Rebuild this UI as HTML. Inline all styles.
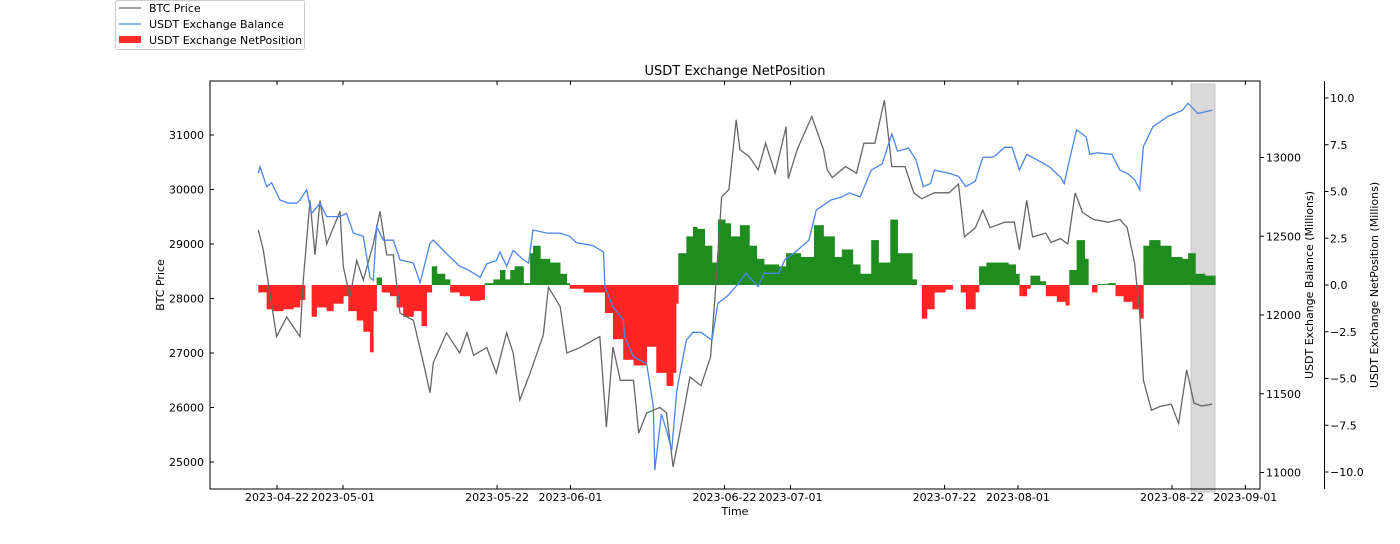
<!DOCTYPE html>
<html><head><meta charset="utf-8"><style>
body{margin:0;background:#fff;}
svg{display:block;font-family:"DejaVu Sans","Liberation Sans",sans-serif;}
</style></head><body>
<svg id="chart" width="1400" height="544" viewBox="0 0 1400 544" xmlns="http://www.w3.org/2000/svg">
<rect x="0" y="0" width="1400" height="544" fill="#fff"/>
<text x="735" y="75" font-size="13" text-anchor="middle">USDT Exchange NetPosition</text>
<rect x="1191" y="84" width="24" height="408" fill="#d9d9d9" stroke="#c4c4c4" stroke-width="1"/>
<g id="net"></g>
<path id="btcLine" fill="none" stroke="#666" stroke-width="1.3"/>
<path id="usdtLine" fill="none" stroke="#4b86ea" stroke-width="1.3"/>
<rect x="210" y="81" width="1050" height="408" fill="none" stroke="#000" stroke-width="1"/>
<line x1="1324.5" y1="81" x2="1324.5" y2="489" stroke="#000"/>
<g id="axes" font-size="11"></g>
<text x="735" y="515" font-size="11" text-anchor="middle">Time</text>
<text transform="translate(164,285) rotate(-90)" font-size="11" text-anchor="middle">BTC Price</text>
<text transform="translate(1313,285) rotate(-90)" font-size="11" text-anchor="middle">USDT Exchange Balance (Millions)</text>
<text transform="translate(1378,285) rotate(-90)" font-size="11" text-anchor="middle">USDT Exchange NetPosition (Millions)</text>
<g>
<rect x="115.5" y="0.5" width="189" height="49" fill="#fff" stroke="#ccc" rx="2"/>
<line x1="119" y1="8" x2="141" y2="8" stroke="#666" stroke-width="1.3"/>
<text x="149" y="12" font-size="11">BTC Price</text>
<line x1="119" y1="24" x2="141" y2="24" stroke="#4b86ea" stroke-width="1.3"/>
<text x="149" y="28" font-size="11">USDT Exchange Balance</text>
<rect x="119" y="36" width="22" height="7" fill="#ff2a2a"/>
<text x="149" y="44" font-size="11">USDT Exchange NetPosition</text>
</g>
</svg>
<script>
// days relative to 2023-04-22
const btcDays=[-2.55,-1.87,-1.18,-0.05,1.32,3.14,3.59,4.5,5.18,5.86,6.77,8.59,9.04,9.95,10.86,11.77,13.13,14.04,14.95,15.86,16.77,18.59,19.95,20.86,21.3,23.1,24.9,25.9,26.8,28.6,29.9,31.3,32.2,33.1,34.5,36.3,37.0,38.6,39.5,41.3,44.0,44.9,45.8,46.8,48.6,49.3,50.4,52.2,53.1,54.0,54.9,56.3,57.8,59.1,59.8,60.6,61.6,62.6,63.1,64.4,65.6,66.6,67.9,69.4,69.7,70.9,72.9,74.5,75.0,75.7,77.5,79.0,80.0,81.5,82.8,83.8,85.6,86.8,87.9,89.6,91.6,92.9,93.7,95.2,96.2,97.2,99.2,100.5,101.2,102.2,103.0,104.8,105.5,106.8,107.8,108.8,109.8,111.3,113.3,114.9,115.9,116.9,117.6,118.1,119.2,120.4,121.9,122.9,124.0,125.0,126.0,127.5];
const btcPrice=[29260,28890,28280,27300,27660,27300,28340,29800,28800,29800,29000,29600,28580,28030,28700,28340,29000,29600,28800,28800,27730,27600,26820,26270,26820,27370,27000,27370,26960,27100,26630,27370,27000,26140,26630,27330,28210,27850,27000,27100,27300,25640,27110,26500,26500,25530,25900,26000,25900,24910,25530,26560,26400,26930,28210,29860,30000,31280,30730,30600,30360,30850,30300,31150,30200,30730,31340,30730,30360,30220,30420,30300,30850,30850,31640,30420,30420,29940,29830,29940,29940,30100,29130,29300,29620,29300,29400,29400,28890,29800,29130,29200,29030,29100,29000,29940,29580,29450,29400,29450,29300,28650,27730,26500,25950,26020,26060,25710,26690,26080,26030,26060];
const balDays=[-2.55,-2.32,-1.41,-0.73,0.41,1.55,2.68,3.14,4.04,4.72,5.86,6.77,8.59,9.49,10.4,11.77,12.68,13.13,13.58,14.5,15.86,16.77,18.59,19.5,20.86,21.3,23.1,24.9,25.9,27.7,28.6,29.9,30.4,31.3,32.2,33.6,34.3,34.9,36.8,38.6,39.9,40.8,43.1,44.5,44.7,45.8,47.2,47.4,48.6,50.4,51.3,51.5,52.4,53.1,53.8,54.5,55.8,56.7,57.8,59.3,60.1,61.4,62.9,63.9,65.6,66.4,68.4,69.2,70.4,72.5,73.5,75.5,77.0,78.0,79.5,81.0,82.5,83.8,84.6,86.1,87.1,88.1,89.1,89.6,91.6,92.9,93.9,95.2,96.2,97.7,99.2,100.2,101.2,102.2,103.8,105.3,106.8,107.3,108.1,109.0,110.3,110.8,111.8,113.8,114.9,115.9,116.9,117.6,118.1,119.4,121.4,123.4,124.2,125.5,127.5];
const balance=[12900,12940,12815,12840,12730,12710,12710,12730,12795,12645,12710,12625,12625,12645,12520,12500,12240,12220,12560,12475,12475,12350,12330,12205,12455,12475,12390,12310,12290,12240,12325,12345,12400,12310,12410,12350,12330,12540,12520,12520,12500,12460,12440,12400,12180,12050,11970,11860,11735,11690,11420,11015,11370,11270,11140,11520,11840,11890,11890,11840,12075,12120,12200,12265,12180,12265,12265,12350,12390,12475,12665,12730,12750,12775,12750,12920,12960,13150,13040,13060,12985,12815,12835,12920,12900,12880,12815,12850,13000,13003,13065,13065,12920,13020,12980,12940,12875,12835,13000,13175,13130,13020,13030,13020,12920,12900,12860,12795,13070,13195,13260,13300,13345,13280,13300];
const netDays=[-2.55,-1.41,-0.5,0.86,2.23,3.14,3.82,4.72,5.4,6.77,7.68,9.04,9.72,10.86,11.77,12.68,13.13,13.58,14.27,15.4,16.3,17.2,18.6,19.7,20.4,21.1,21.8,22.9,23.6,24.9,26.3,27.7,28.3,29.5,30.4,31.1,31.8,32.4,33.6,34.5,34.9,35.9,37.2,38.6,39.5,39.9,41.8,44.0,44.7,45.8,47.2,48.6,50.4,51.7,53.1,54.0,54.4,54.7,55.8,56.7,57.3,58.3,59.3,60.1,61.1,61.85,63.1,64.4,65.4,66.4,68.4,69.4,71.4,73.2,74.5,76.0,77.0,78.5,79.5,81.0,82.0,83.6,84.6,85.8,86.6,87.2,87.9,88.6,89.6,91.1,92.1,93.2,93.9,95.2,95.7,96.7,98.2,99.7,100.7,101.2,102.2,102.7,104.0,104.8,106.3,107.5,108.0,109.0,110.1,110.6,111.1,111.8,113.3,114.3,115.4,116.6,117.6,118.1,118.9,120.4,121.9,123.4,124.2,125.2,126.5,127.5];
const netPos=[-0.4,-1.3,-1.4,-1.3,-1.2,-0.8,0,-1.7,-1.2,-1.4,-1.0,-0.6,-1.4,-1.9,-2.5,-3.6,-1.4,0.4,-0.4,-0.6,-1.2,-1.7,-1.4,-2.2,-0.4,1.0,0.6,0.3,-0.4,-0.6,-0.85,-0.8,0.1,0.3,0.8,0.3,0.8,1.0,0.1,1.7,2.1,1.4,1.2,0.6,0.1,-0.2,-0.4,-0.4,-1.5,-2.9,-4.0,-4.3,-3.3,-4.7,-5.4,-4.7,-1.0,1.7,2.6,3.1,3.0,2.1,1.2,3.5,3.3,2.6,3.2,2.1,1.4,1.1,1.0,1.7,1.5,3.2,2.6,1.5,1.9,1.1,0.6,2.4,1.2,3.5,1.7,1.7,0.3,0,-1.8,-1.3,-0.4,-0.25,0,-0.4,-1.3,-0.4,1.0,1.2,1.2,1.1,0.6,-0.6,-0.2,0.5,0.2,-0.6,-0.9,-1.1,0.8,2.4,1.4,0,-0.4,0.05,0.1,-0.6,-0.9,-1.3,-1.8,2.1,2.4,2.1,1.5,1.4,1.7,0.6,0.5,0.5];
const btcTicks=[25000,26000,27000,28000,29000,30000,31000];
const balTicks=[11000,11500,12000,12500,13000];
const netTicks=[-10,-7.5,-5,-2.5,0,2.5,5,7.5,10];
const xTickDays=[0,9,30,40,61,70,91,101,122,132];
const xTickLabels=["2023-04-22","2023-05-01","2023-05-22","2023-06-01","2023-06-22","2023-07-01","2023-07-22","2023-08-01","2023-08-22","2023-09-01"];

const X=d=>277+d*7.336;
const YB=v=>135+(31000-v)*0.0545;
const YU=v=>157.5+(13000-v)*0.1575;
const YN=v=>285+(-v)*18.7;
const NS='http://www.w3.org/2000/svg';
function mk(tag,attrs,parent){const e=document.createElementNS(NS,tag);for(const k in attrs)e.setAttribute(k,attrs[k]);parent.appendChild(e);return e;}

const netG=document.getElementById('net');
for(let i=0;i<netDays.length;i++){
  const v=netPos[i];
  const x0=X(netDays[i]);
  const x1=i<netDays.length-1?X(netDays[i+1]):x0+3;
  const y=YN(Math.max(v,0)),h=Math.abs(YN(v)-YN(0));
  const r=mk('rect',{x:x0.toFixed(2),y:y.toFixed(2),width:(x1-x0+0.3).toFixed(2),height:Math.max(h,0.01).toFixed(2),fill:v>=0?'#1f8c1f':'#ff2525'},netG);
  
  
}
document.getElementById('btcLine').setAttribute('d',btcDays.map((d,i)=>(i?'L':'M')+X(d).toFixed(1)+','+YB(btcPrice[i]).toFixed(1)).join(''));
document.getElementById('usdtLine').setAttribute('d',balDays.map((d,i)=>(i?'L':'M')+X(d).toFixed(1)+','+YU(balance[i]).toFixed(1)).join(''));

const ax=document.getElementById('axes');
btcTicks.forEach(v=>{const y=YB(v);
  mk('line',{x1:210,y1:y,x2:214,y2:y,stroke:'#000'},ax);
  const t=mk('text',{x:204,y:y+4,'text-anchor':'end'},ax);t.textContent=v;
  
  
});
balTicks.forEach(v=>{const y=YU(v);
  mk('line',{x1:1260,y1:y,x2:1264,y2:y,stroke:'#000'},ax);
  const t=mk('text',{x:1266,y:y+4},ax);t.textContent=v;
  
  
});
netTicks.forEach(v=>{const y=YN(v);
  mk('line',{x1:1324.5,y1:y,x2:1328.5,y2:y,stroke:'#000'},ax);
  const t=mk('text',{x:1330,y:y+4},ax);t.textContent=(v<0?'\u2212':'')+Math.abs(v).toFixed(1);
  
  
});
xTickDays.forEach((d,i)=>{const x=X(d);
  mk('line',{x1:x,y1:489,x2:x,y2:485,stroke:'#000'},ax);
  mk('line',{x1:x,y1:81,x2:x,y2:85,stroke:'#000'},ax);
  const t=mk('text',{x:x,y:501,'text-anchor':'middle'},ax);t.textContent=xTickLabels[i];
  
  
});
</script>
</body></html>
